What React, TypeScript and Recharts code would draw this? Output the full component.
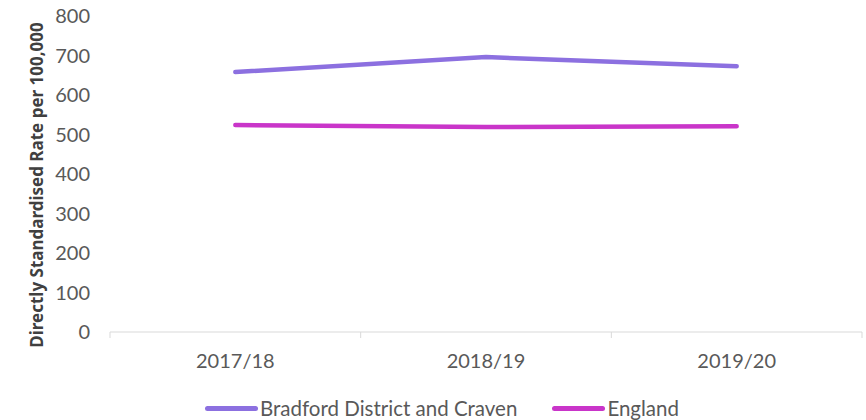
import React from 'react';
import { LineChart, Line, XAxis, YAxis, Label } from 'recharts';

const categories = ['2017/18', '2018/19', '2019/20'];
const bradford = [658, 696, 673];
const england = [524, 519, 521];
const yTicks = [0, 100, 200, 300, 400, 500, 600, 700, 800];
const seriesNames = ['Bradford District and Craven', 'England'];
const seriesColors = ['#8C70E0', '#C935C9'];

const data = categories.map((c, i) => ({ cat: c, bradford: bradford[i], england: england[i] }));

const W = 866;
const H = 420;
const PLOT_LEFT = 110;
const PLOT_RIGHT = 862;
const BW = (PLOT_RIGHT - PLOT_LEFT) / categories.length;

const XTick = (props: any) => {
  const { x, y, payload, index } = props;
  const last = index === categories.length - 1;
  return (
    <g>
      <line x1={x - BW / 2} x2={x - BW / 2} y1={y} y2={y + 6} stroke="#D9D9D9" strokeWidth={1} />
      {last && <line x1={x + BW / 2} x2={x + BW / 2} y1={y} y2={y + 6} stroke="#D9D9D9" strokeWidth={1} />}
      <text x={x} y={y + 36} textAnchor="middle" fill="#595959" fontSize={20} fontFamily="Lato">
        {payload.value}
      </text>
    </g>
  );
};

const YLabel = () => (
  <text
    x={36}
    y={185}
    transform="rotate(-90, 36, 185)"
    textAnchor="middle"
    dominantBaseline="central"
    fill="#404040"
    fontSize={17}
    fontWeight="bold"
    fontFamily="Noto Sans"
  >
    Directly Standardised Rate per 100,000
  </text>
);

export default function App() {
  return (
    <div style={{ position: 'absolute', left: 0, top: 0, width: W, height: H, background: '#fff' }}>
      <LineChart width={W} height={H} data={data} margin={{ top: 16, right: W - PLOT_RIGHT, left: 0, bottom: 38 }}>
        <XAxis
          dataKey="cat"
          scale="band"
          interval={0}
          height={50}
          axisLine={{ stroke: '#D9D9D9', strokeWidth: 1 }}
          tickLine={false}
          tickSize={0}
          tickMargin={0}
          tick={<XTick />}
        />
        <YAxis
          width={PLOT_LEFT}
          domain={[0, 800]}
          ticks={yTicks}
          interval={0}
          axisLine={false}
          tickLine={false}
          tickSize={18}
          tickMargin={2}
          tick={{ fill: '#595959', fontSize: 20, fontFamily: 'Lato' }}
        >
          <Label content={<YLabel />} />
        </YAxis>
        <Line dataKey="bradford" name={seriesNames[0]} stroke={seriesColors[0]} strokeWidth={4.5} dot={false} strokeLinecap="round" isAnimationActive={false} />
        <Line dataKey="england" name={seriesNames[1]} stroke={seriesColors[1]} strokeWidth={4.5} dot={false} strokeLinecap="round" isAnimationActive={false} />
      </LineChart>
      <div style={{ position: 'absolute', left: 205, top: 395, height: 26, display: 'flex', alignItems: 'center', fontFamily: 'Lato', fontSize: 20.5, color: '#595959', whiteSpace: 'nowrap' }}>
        {seriesNames.map((n, i) => (
          <div key={n} style={{ display: 'flex', alignItems: 'center', marginRight: i === 0 ? 35 : 0 }}>
            <div style={{ width: 53, height: 5, borderRadius: 3, background: seriesColors[i], marginRight: 2 }} />
            <span>{n}</span>
          </div>
        ))}
      </div>
    </div>
  );
}
